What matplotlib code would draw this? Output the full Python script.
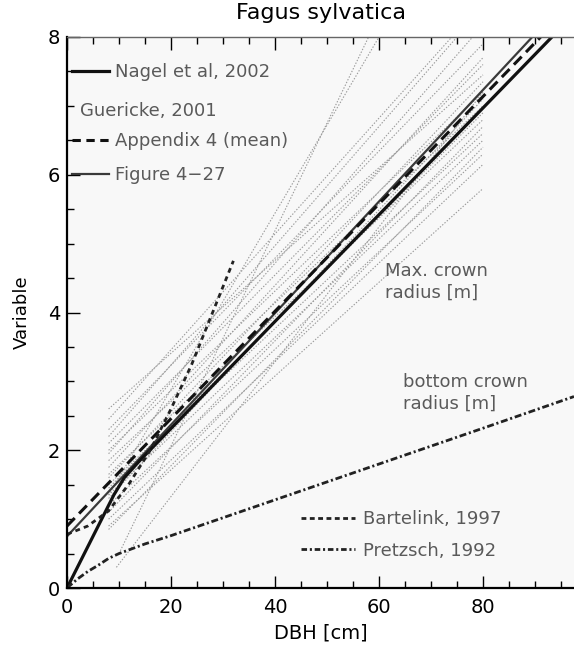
import numpy as np
import matplotlib.pyplot as plt
from matplotlib.lines import Line2D
from matplotlib.ticker import MultipleLocator

plt.rcParams['lines.scale_dashes'] = False

# Nagel et al, 2002 (max. crown radius)
nagel_dbh = [0, 3, 6, 9, 11, 14, 40, 60, 80, 97.5]
nagel_cr = [0, 0.45, 0.9, 1.35, 1.6, 1.85, 3.87, 5.42, 6.97, 8.33]

# Appendix 4 (mean)
app_dbh = [0, 97.5]
app_cr = [0.9, 8.5]

# Figure 4-27
fig427_dbh = [0, 97.5]
fig427_cr = [0.75, 8.65]

# Bartelink, 1997
bart_dbh = [0, 4, 8, 12, 16, 20, 24, 28, 32]
bart_cr = [0.78, 0.9, 1.12, 1.52, 2.0, 2.6, 3.25, 4.0, 4.75]

# Pretzsch, 1992 (bottom crown radius)
pretz_dbh = [0, 2, 4, 6, 8, 10, 15, 20, 40, 60, 80, 97.5]
pretz_cr = [0, 0.13, 0.24, 0.33, 0.43, 0.5, 0.64, 0.76, 1.28, 1.8, 2.32, 2.78]

# Guericke, 2001 - individual regressions (start / end points)
g_x0 = [8, 8, 8, 8, 8, 8, 8, 8, 8, 8, 8, 8, 8, 8, 8, 8, 8, 8, 8, 8, 10, 9.5, 8]
g_y0 = [2.6, 2.45, 2.3, 2.2, 2.1, 2.0, 1.95, 1.85, 1.75, 1.65, 1.6, 1.5, 1.45,
        1.35, 1.3, 1.2, 1.1, 1.0, 0.9, 0.85, 0.5, 0.3, 1.35]
g_x1 = [80, 74, 80, 75, 80, 80, 78, 80, 80, 80, 80, 80, 80, 80, 80, 80, 80, 80,
        80, 80, 58, 80, 60]
g_y1 = [7.45, 8.0, 7.9, 8.0, 7.6, 7.2, 8.0, 7.0, 7.7, 6.8, 7.35, 6.6, 6.9,
        6.5, 7.1, 6.3, 6.7, 6.15, 5.8, 6.4, 8.0, 7.2, 8.0]

txt_col = '#5a5a5a'

fig = plt.figure(figsize=(5.74, 6.6), dpi=100)
ax = fig.add_axes([67 / 574, 1 - 588 / 660, 1 - 67 / 574, (588 - 37) / 660])
ax.set_facecolor('#f8f8f8')

for x0, y0, x1, y1 in zip(g_x0, g_y0, g_x1, g_y1):
    ax.plot([x0, x1], [y0, y1], ls=(0, (1, 1.2)), lw=0.8, color='#9a9a9a')

ax.plot(fig427_dbh, fig427_cr, color='#3a3a3a', lw=1.6)
ax.plot(app_dbh, app_cr, color='#111111', lw=2.2, ls=(0, (8, 4.5)))
ax.plot(nagel_dbh, nagel_cr, color='#111111', lw=2.3)
ax.plot(bart_dbh, bart_cr, color='#222222', lw=2.0, ls=(0, (3.5, 3)))
ax.plot(pretz_dbh, pretz_cr, color='#222222', lw=2.0, ls=(0, (5, 2, 1.5, 2)))

ax.set_xlim(0, 97.5)
ax.set_ylim(0, 8)
ax.xaxis.set_major_locator(MultipleLocator(20))
ax.xaxis.set_minor_locator(MultipleLocator(5))
ax.yaxis.set_major_locator(MultipleLocator(2))
ax.yaxis.set_minor_locator(MultipleLocator(0.5))
ax.tick_params(which='both', direction='in', top=True, right=False,
               labelsize=14, width=1)
ax.tick_params(which='major', length=9)
ax.tick_params(which='minor', length=5)
ax.tick_params(axis='x', pad=7)
ax.tick_params(axis='y', pad=5)
ax.spines['right'].set_visible(False)
for s in ['left', 'bottom']:
    ax.spines[s].set_linewidth(1.6)
ax.spines['top'].set_linewidth(1.0)
ax.spines['top'].set_color('#666666')

ax.set_xlabel('DBH [cm]', fontsize=14, labelpad=5)
ax.set_ylabel('Variable', fontsize=13, labelpad=12)
ax.set_title('Fagus sylvatica', fontsize=16, pad=13)

# upper-left key
h1 = [Line2D([], [], color='#111111', lw=2.3),
      Line2D([], [], color='none'),
      Line2D([], [], color='#111111', lw=2.2, ls=(0, (6, 4))),
      Line2D([], [], color='#3a3a3a', lw=1.6)]
l1 = ['Nagel et al, 2002', ' ', 'Appendix 4 (mean)', 'Figure 4\u221227']
leg1 = ax.legend(h1, l1, loc='upper left', bbox_to_anchor=(0.0, 0.962),
                 frameon=False, fontsize=13, handlelength=2.0,
                 handletextpad=0.35, labelspacing=0.9, borderaxespad=0.1,
                 borderpad=0.2)
for t in leg1.get_texts():
    t.set_color(txt_col)
ax.add_artist(leg1)
ax.text(2.5, 6.92, 'Guericke, 2001', fontsize=13, color=txt_col, va='center')

# lower-right key
h2 = [Line2D([], [], color='#222222', lw=2.0, ls=(0, (3.5, 2.5))),
      Line2D([], [], color='#222222', lw=2.0, ls=(0, (4, 2, 1.5, 2)))]
l2 = ['Bartelink, 1997', 'Pretzsch, 1992']
leg2 = ax.legend(h2, l2, loc='lower left', bbox_to_anchor=(0.43, 0.022),
                 frameon=False, fontsize=13, handlelength=3.0,
                 handletextpad=0.4, labelspacing=0.75)
for t in leg2.get_texts():
    t.set_color(txt_col)

ax.text(61.2, 4.45, 'Max. crown\nradius [m]', fontsize=13, color=txt_col,
        va='center', linespacing=1.25)
ax.text(64.6, 2.83, 'bottom crown\nradius [m]', fontsize=13, color=txt_col,
        va='center', linespacing=1.25)

fig.savefig('out.png', dpi=100)
